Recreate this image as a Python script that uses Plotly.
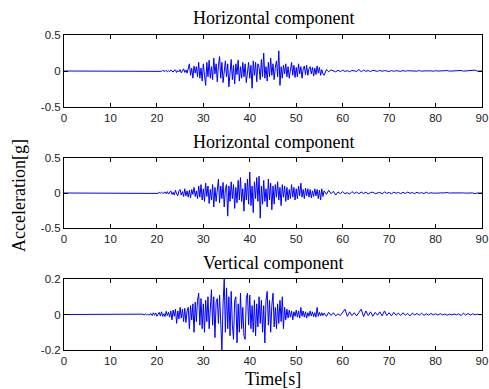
import numpy as np
import plotly.graph_objects as go

# ---------------- data (acceleration in g) ----------------
titles = ["Horizontal component", "Horizontal component", "Vertical component"]
x_ticks = [0, 10, 20, 30, 40, 50, 60, 70, 80, 90]
y_ticks_h = [-0.5, 0, 0.5]
y_ticks_v = [-0.2, 0, 0.2]

# panel 1 : samples every 0.25 s from 20.0 s to 55.75 s
h1_dense = [
    0, 0.005, -0.003, 0.004,     -0.005, 0.008, 0.002, -0.006,
    0.01, -0.012, 0.004, -0.008,     0.012, -0.004, -0.015, 0.01,
    0.015, -0.02, 0.006, -0.01,     0.02, -0.025, 0.01, 0.03,
    -0.02, 0.015, -0.03, 0.025,     0.1, -0.06, 0.04, -0.1,
    0.07, -0.03, 0.06, -0.08,     0.12, -0.1, 0.04, -0.14,
    0.1, -0.06, -0.2, 0.12,     -0.08, 0.15, -0.1, 0.06,
    -0.12, 0.18, -0.04, 0.1,     -0.15, 0.08, 0.2, -0.1,
    0.12, -0.16, 0.05, 0.14,     -0.08, 0.1, -0.22, 0.06,
    0.16, -0.12, 0.08, -0.18,     0.1, -0.05, 0.15, -0.14,
    0.06, -0.1, 0.12, -0.08,     0.1, -0.16, 0.04, 0.12,
    -0.1, 0.08, -0.24, 0.14,     -0.06, 0.12, -0.15, 0.1,
    0.05, -0.12, 0.16, -0.08,     0.25, -0.1, 0.06, -0.14,
    0.12, -0.08, 0.18, -0.06,     0.1, -0.12, 0.05, 0.14,
    -0.08, 0.28, -0.2, 0.06,     -0.1, 0.08, -0.04, 0.1,
    -0.08, 0.06, -0.1, 0.04,     0.12, -0.06, 0.08, -0.09,
    0.05, -0.08, 0.1, -0.04,     0.06, -0.1, 0.03, 0.07,
    -0.05, 0.08, -0.06, 0.03,     0.06, -0.04, 0.05, -0.07,
    0.04, -0.05, 0.07, -0.03,     0.05, -0.06, 0.02, -0.04,
]
# panel 1 : coda samples every 0.5 s from 56.0 s to 89.5 s
h1_coda = [
    -0.06, 0.02, -0.01, 0.015, 0.005, -0.012, 0.01, -0.008,
    0.012, -0.006, 0.004, -0.01, 0.008, 0.002, -0.006, 0.02,
    -0.01, 0.012, -0.004, 0.006, -0.008, 0.01, 0.002, -0.005,
    0.008, -0.004, 0.006, 0.001, -0.006, 0.005, -0.003, 0.004,
    0.002, -0.004, 0.005, -0.002, 0.003, 0.001, -0.003, 0.004,
    -0.002, 0.006, -0.003, 0.001, 0.003, -0.002, 0.002, -0.003,
    0.004, -0.001, 0.002, -0.003, 0.001, 0.006, -0.002, 0.001,
    0.002, -0.002, 0.003, 0.007, -0.002, 0.001, -0.002, 0.002,
    0.001, 0.012, -0.002, 0.001,
]

# panel 2 : samples every 0.25 s from 20.0 s to 55.75 s
h2_dense = [
    0.004, -0.006, 0.01, -0.004,     0.012, -0.008, 0.003, 0.015,
    -0.01, 0.02, -0.015, 0.008,     0.03, -0.02, 0.01, -0.03,
    0.04, -0.015, -0.04, 0.03,     0.05, -0.03, 0.02, -0.05,
    0.06, -0.04, 0.03, -0.06,     0.04, -0.07, 0.05, -0.02,
    0.08, -0.05, 0.03, -0.08,     0.1, -0.06, 0.12, -0.1,
    0.06, -0.12, 0.14, -0.05,     0.1, -0.15, 0.05, -0.1,
    0.12, -0.2, 0.08, -0.12,     0.06, 0.2, -0.14, 0.1,
    -0.08, 0.15, -0.2, 0.06,     0.12, -0.33, 0.1, -0.12,
    0.16, -0.08, 0.12, -0.22,     0.08, -0.14, 0.18, -0.1,
    0.22, -0.12, 0.06, -0.26,     0.14, -0.1, 0.2, -0.16,
    0.3, -0.18, 0.1, -0.28,     0.16, -0.08, 0.22, -0.12,
    0.24, -0.36, 0.1, -0.16,     0.18, -0.12, 0.06, -0.2,
    0.2, -0.1, 0.14, -0.24,     0.1, -0.16, 0.12, -0.06,
    0.16, -0.1, 0.08, -0.18,     0.12, -0.06, 0.1, -0.12,
    0.08, -0.1, 0.05, -0.08,     0.12, -0.06, 0.08, -0.1,
    0.06, -0.08, 0.1, -0.04,     0.14, -0.06, 0.05, -0.08,
    0.07, -0.04, 0.06, -0.06,     0.05, -0.07, 0.03, -0.05,
    0.06, -0.04, 0.05, -0.08,     0.04, -0.1, 0.06, -0.05,
]
h2_coda = [
    0.03, -0.02, 0.04, -0.01, 0.025, -0.03, 0.015, -0.01,
    0.02, -0.01, 0.005, -0.015, 0.02, -0.005, 0.012, -0.01,
    0.015, -0.008, 0.01, -0.012, 0.006, 0.012, -0.01, 0.004,
    0.01, -0.012, 0.015, -0.005, 0.008, -0.01, 0.012, -0.004,
    0.008, -0.01, 0.01, -0.006, 0.012, -0.004, 0.006, -0.008,
    0.01, -0.004, 0.006, -0.008, 0.012, -0.006, 0.004, -0.002,
    0.003, -0.002, 0.002, -0.003, 0.001, 0.008, -0.002, 0.001,
    0.002, -0.002, 0.006, -0.001, 0.001, -0.002, 0.002, -0.001,
    0.001, -0.01, 0.001, 0.0,
]

# panel 3 : samples every 0.25 s from 17.0 s to 55.75 s
v_dense = [
    0.002, -0.003, 0.004, -0.002,     0.003, -0.004, 0.002, 0.005,
    -0.006, 0.01, -0.004, 0.008,     -0.01, 0.006, 0.012, -0.008,
    0.015, -0.01, 0.004, -0.012,     0.018, -0.006, 0.012, -0.015,
    0.02, -0.03, 0.025, -0.01,     0.03, -0.05, 0.02, -0.025,
    0.04, -0.02, 0.03, -0.04,     0.035, -0.045, 0.02, 0.04,
    -0.08, 0.05, -0.03, 0.06,     -0.1, 0.07, -0.04, 0.08,
    0.12, -0.06, 0.09, -0.08,     0.06, -0.1, 0.08, -0.04,
    0.1, -0.08, 0.05, 0.14,     -0.06, 0.1, -0.13, 0.07,
    0.09, -0.05, 0.11, -0.08,     -0.2, 0.06, 0.2, -0.1,
    0.15, -0.08, 0.1, -0.12,     0.13, -0.06, -0.14, 0.08,
    0.1, -0.16, 0.06, -0.1,     0.12, -0.08, 0.04, -0.12,
    -0.14, 0.09, 0.12, -0.06,     0.11, -0.08, 0.05, -0.1,
    0.08, -0.12, 0.06, -0.07,     0.1, -0.05, 0.08, -0.1,
    0.05, -0.16, 0.08, 0.13,     -0.06, 0.08, -0.1, 0.05,
    0.12, -0.07, 0.04, -0.08,     0.06, -0.05, 0.08, -0.04,
    0.1, -0.08, 0.04, -0.03,     0.03, -0.02, 0.025, -0.015,
    0.02, -0.03, 0.015, -0.01,     0.025, -0.015, 0.02, -0.02,
    0.04, -0.01, 0.02, -0.015,     0.015, -0.02, 0.01, -0.01,
    0.02, -0.008, 0.015, -0.012,     0.01, -0.015, 0.04, -0.01,
    0.012, -0.008, 0.01, -0.006,
]
v_coda = [
    0.008, -0.01, 0.012, -0.005, 0.01, -0.008, 0.004, -0.006,
    0.012, 0.03, -0.01, 0.015, -0.006, 0.01, -0.008, 0.012,
    0.03, -0.012, 0.02, -0.006, 0.015, -0.01, 0.012, -0.004,
    0.015, -0.008, 0.02, -0.006, 0.01, -0.008, 0.012, -0.004,
    0.008, -0.006, 0.01, -0.004, 0.006, -0.008, 0.008, -0.003,
    0.006, -0.004, 0.007, -0.005, 0.004, -0.003, 0.006, -0.002,
    0.004, -0.003, 0.005, -0.002, 0.003, -0.004, 0.002, -0.002,
    0.003, -0.002, 0.004, -0.006, 0.008, -0.004, 0.006, -0.003,
    0.004, -0.002, 0.002, -0.001,
]

starts = [20.0, 20.0, 17.0]
dense = [h1_dense, h2_dense, v_dense]
coda = [h1_coda, h2_coda, v_coda]
yranges = [[-0.5, 0.5], [-0.5, 0.5], [-0.2, 0.2]]
yticks = [y_ticks_h, y_ticks_h, y_ticks_v]
ytick_text = [["-0.5", "0", "0.5"], ["-0.5", "0", "0.5"], ["-0.2", "0", "0.2"]]

# ---------------- layout ----------------
W, H = 489, 389
x_dom = [64 / W, 482 / W]
y_doms = [
    [1 - 107 / H, 1 - 35 / H],
    [1 - 228 / H, 1 - 158 / H],
    [1 - 350 / H, 1 - 279 / H],
]
title_y = [18, 142, 263]
SERIF = "Liberation Serif"

fig = go.Figure()
for i in range(3):
    t_dense = starts[i] + 0.25 * np.arange(len(dense[i]))
    t_coda = 56.0 + 0.5 * np.arange(len(coda[i]))
    t = np.concatenate([[0.0], t_dense, t_coda, [90.0]])
    a = np.concatenate([[0.0], dense[i], coda[i], [0.0]])
    sfx = "" if i == 0 else str(i + 1)
    fig.add_trace(go.Scatter(
        x=t, y=a, mode="lines",
        line=dict(color="#0000ff", width=1),
        xaxis="x" + sfx, yaxis="y" + sfx, showlegend=False,
    ))
    ax_common = dict(
        showline=True, linecolor="black", linewidth=1, mirror="ticks",
        ticks="inside", ticklen=4, tickcolor="black", showgrid=False,
        zeroline=False, automargin=False,
        tickfont=dict(family="Liberation Sans", size=11.5, color="#222222"),
    )
    fig.update_layout(**{
        "xaxis" + sfx: dict(domain=x_dom, range=[0, 90], tickvals=x_ticks,
                            anchor="y" + sfx, **ax_common),
        "yaxis" + sfx: dict(domain=y_doms[i], range=yranges[i], tickvals=yticks[i],
                            ticktext=ytick_text[i], anchor="x" + sfx, **ax_common),
    })
    fig.add_annotation(text=titles[i], xref="paper", yref="paper",
                       x=(x_dom[0] + x_dom[1]) / 2, y=1 - title_y[i] / H,
                       showarrow=False, xanchor="center", yanchor="middle",
                       font=dict(family=SERIF, size=18, color="black"))

fig.add_annotation(text="Time[s]", xref="paper", yref="paper",
                   x=(x_dom[0] + x_dom[1]) / 2, y=1 - 379 / H, showarrow=False,
                   xanchor="center", yanchor="middle",
                   font=dict(family=SERIF, size=18, color="black"))
fig.add_annotation(text="Acceleration[g]", xref="paper", yref="paper",
                   x=19 / W, y=1 - 196 / H, showarrow=False, textangle=-90,
                   xanchor="center", yanchor="middle",
                   font=dict(family=SERIF, size=18, color="black"))

fig.update_layout(width=W, height=H,
                  margin=dict(l=0, r=0, t=0, b=0, pad=0, autoexpand=False),
                  paper_bgcolor="white", plot_bgcolor="white")
fig.write_html("out.html")
